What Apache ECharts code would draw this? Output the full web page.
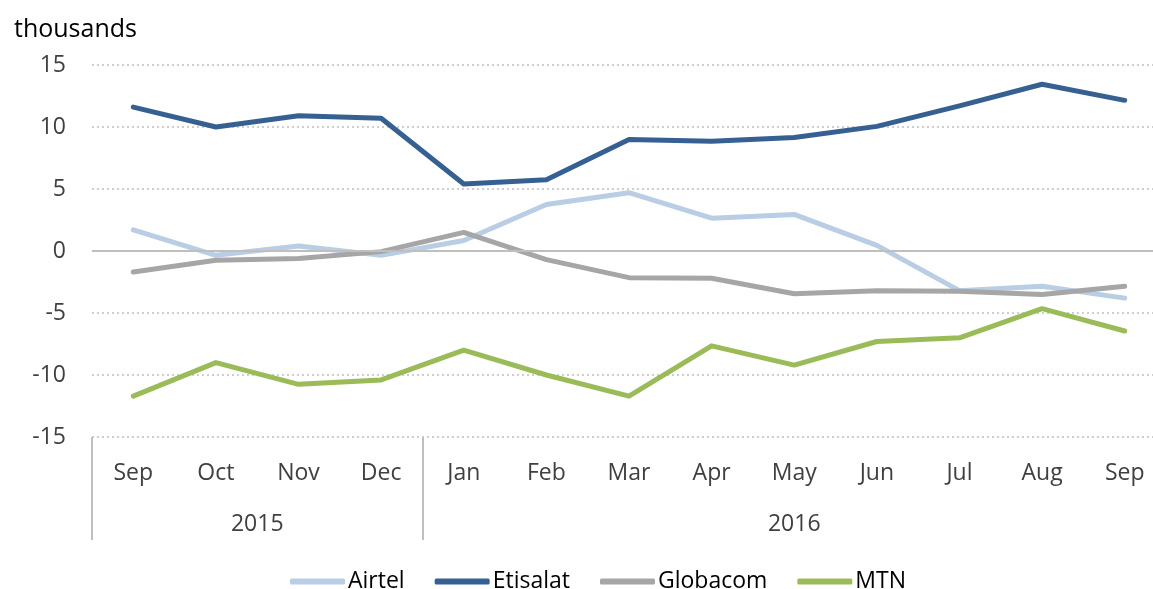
<!DOCTYPE html>
<html>
<head>
<meta charset="utf-8">
<script src="https://cdn.jsdelivr.net/npm/echarts@6/dist/echarts.min.js"></script>
<style>
  html, body { margin: 0; padding: 0; background: #fff; overflow: hidden; }
  #chart { width: 1166px; height: 589px; }
</style>
</head>
<body>
<div id="chart"></div>
<script>
// months Sep 2015 - Sep 2016
var months = ['Sep', 'Oct', 'Nov', 'Dec', 'Jan', 'Feb', 'Mar', 'Apr', 'May', 'Jun', 'Jul', 'Aug', 'Sep'];
var years = ['2015', '2016'];
var monthsPerYear = [4, 9];
var yTicks = [-15, -10, -5, 0, 5, 10, 15];

// thousands
var airtel   = [1.7, -0.35, 0.4, -0.35, 0.85, 3.75, 4.7, 2.65, 2.95, 0.45, -3.2, -2.85, -3.8];
var etisalat = [11.6, 10.0, 10.9, 10.7, 5.4, 5.75, 9.0, 8.85, 9.15, 10.05, 11.7, 13.45, 12.15];
var globacom = [-1.7, -0.75, -0.6, -0.05, 1.5, -0.7, -2.15, -2.2, -3.45, -3.2, -3.25, -3.5, -2.85];
var mtn      = [-11.7, -9.0, -10.75, -10.4, -8.0, -10.0, -11.7, -7.65, -9.2, -7.3, -7.0, -4.65, -6.45];

var font = "'Open Sans', 'Liberation Sans', sans-serif";

// year label centres and separators, in category index units
var yearCenters = [], yearBounds = [-0.5];
var start = -0.5;
monthsPerYear.forEach(function (n) {
    yearCenters.push(start + n / 2);
    start += n;
    yearBounds.push(start);
});

function line(name, data, color) {
    return {
        name: name,
        type: 'line',
        data: data,
        symbol: 'none',
        lineStyle: { color: color, width: 5, cap: 'round', join: 'round' },
        itemStyle: { color: color }
    };
}

var chart = echarts.init(document.getElementById('chart'));
var series = [
    line('Airtel', airtel, '#B9CDE5'),
    line('Etisalat', etisalat, '#376092'),
    line('Globacom', globacom, '#A6A6A6'),
    line('MTN', mtn, '#9BBB59')
];
// solid zero line
series[0].markLine = {
    silent: true,
    symbol: 'none',
    label: { show: false },
    lineStyle: { color: '#BFBFBF', type: 'solid', width: 2 },
    data: [{ yAxis: 0 }]
};

chart.setOption({
    animation: false,
    title: {
        text: 'thousands',
        left: 9,
        top: 12,
        textStyle: { fontFamily: font, fontSize: 25, fontWeight: 'normal', color: '#000' }
    },
    grid: { left: 92, right: 0, top: 65, bottom: 152 },
    legend: {
        top: 565,
        left: 285,
        icon: 'roundRect',
        itemWidth: 55,
        itemHeight: 6,
        itemGap: 30,
        textStyle: { fontFamily: font, fontSize: 23, color: '#000', padding: [0, 0, 0, -2] },
        data: ['Airtel', 'Etisalat', 'Globacom', 'MTN']
    },
    xAxis: [
        {
            type: 'category',
            data: months,
            boundaryGap: true,
            axisLine: { show: false },
            axisTick: { show: false },
            axisLabel: { margin: 25, fontFamily: font, fontSize: 23, color: '#404040', interval: 0 }
        },
        {
            type: 'value',
            min: -0.5,
            max: months.length - 0.5,
            position: 'bottom',
            axisLine: { show: false },
            splitLine: { show: false },
            axisTick: {
                show: true,
                customValues: yearBounds,
                length: 103,
                lineStyle: { color: '#BFBFBF', width: 2 }
            },
            axisLabel: {
                customValues: yearCenters,
                margin: 76,
                fontFamily: font,
                fontSize: 23,
                color: '#404040',
                formatter: function (v) {
                    var i = yearCenters.indexOf(v);
                    return i >= 0 ? years[i] : '';
                }
            }
        }
    ],
    yAxis: {
        type: 'value',
        min: yTicks[0],
        max: yTicks[yTicks.length - 1],
        interval: 5,
        axisLine: { show: false },
        axisTick: { show: false },
        axisLabel: { margin: 26, fontFamily: font, fontSize: 23, color: '#404040' },
        splitLine: { lineStyle: { color: '#BFBFBF', type: [2, 3], width: 1.5 } }
    },
    series: series
});
</script>
</body>
</html>
